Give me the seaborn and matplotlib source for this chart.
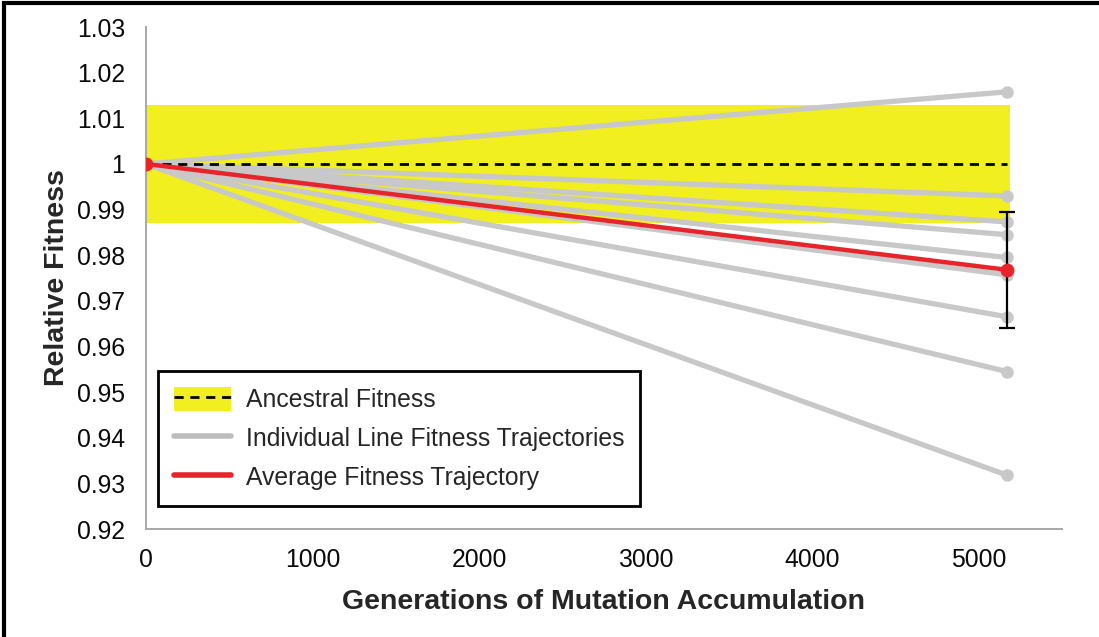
import numpy as np
import pandas as pd
import seaborn as sns
import matplotlib.pyplot as plt
from matplotlib.patches import Patch, Rectangle
from matplotlib.lines import Line2D

# generations sampled
generations = [0, 5170]

# end-point relative fitness of each mutation-accumulation line (all start at 1)
line_end_fitness = [1.0158, 0.9930, 0.9873, 0.9845, 0.9795, 0.9757, 0.9665, 0.9545, 0.9318]

# average trajectory and its error bar at the end point
avg_fitness = [1.0, 0.9768]
avg_err = 0.0127

# ancestral fitness band
ancestral_mean = 1.0
ancestral_low = 0.987
ancestral_high = 1.013
band_x = [0, 5190]

rows = []
for i, f in enumerate(line_end_fitness):
    rows.append({'line': i, 'gen': generations[0], 'fitness': 1.0})
    rows.append({'line': i, 'gen': generations[1], 'fitness': f})
df = pd.DataFrame(rows)
avg_df = pd.DataFrame({'gen': generations, 'fitness': avg_fitness})

sns.set_style('white')
plt.rcParams['font.family'] = ['Liberation Sans', 'DejaVu Sans']

gray = '#c8c8c8'
red = '#e8242b'
yellow = '#f1ef1f'
dash = (0, (3.3, 2.4))

fig = plt.figure(figsize=(10.99, 6.37), dpi=100)
ax = fig.add_axes([0.1328, 0.1695, 0.8335, 0.7881])

ax.fill_between(band_x, ancestral_low, ancestral_high, color=yellow, lw=0, zorder=1)
ax.plot(generations, [ancestral_mean, ancestral_mean], color='black', ls=dash, lw=2.0, zorder=3)

sns.lineplot(data=df, x='gen', y='fitness', units='line', estimator=None,
             color=gray, lw=3.8, marker='o', markersize=9, markeredgewidth=0,
             ax=ax, zorder=2)

ax.errorbar(generations[1], avg_fitness[1], yerr=avg_err, color='black',
            lw=1.6, capsize=6, capthick=1.6, zorder=4)
sns.lineplot(data=avg_df, x='gen', y='fitness', color=red, lw=3.2,
             marker='o', markersize=10, markeredgewidth=0, ax=ax, zorder=5)

ax.set_xlim(0, 5500)
ax.set_ylim(0.92, 1.03)
ax.set_xticks(np.arange(0, 5001, 1000))
ax.set_yticks(np.arange(0.92, 1.0301, 0.01))
ax.set_yticklabels(['0.92', '0.93', '0.94', '0.95', '0.96', '0.97', '0.98',
                    '0.99', '1', '1.01', '1.02', '1.03'])

for s in ['top', 'right']:
    ax.spines[s].set_visible(False)
for s in ['left', 'bottom']:
    ax.spines[s].set_color('#a8a8a8')
    ax.spines[s].set_linewidth(1.4)
ax.tick_params(axis='both', direction='out', length=6, width=1, color='#a8a8a8',
               labelsize=17.8, labelcolor='#0a0a0a')
ax.tick_params(axis='y', pad=9)
ax.tick_params(axis='x', pad=8)

ax.set_xlabel('Generations of Mutation Accumulation', fontsize=20.5, fontweight='bold', labelpad=12)
ax.set_ylabel('Relative Fitness', fontsize=20.5, fontweight='bold', labelpad=5)

handles = [(Patch(facecolor=yellow, edgecolor='none'),
            Line2D([], [], color='black', ls=dash, lw=2.0)),
           Line2D([], [], color='#bdbdbd', lw=4),
           Line2D([], [], color=red, lw=4)]
labels = ['Ancestral Fitness', 'Individual Line Fitness Trajectories', 'Average Fitness Trajectory']
leg = ax.legend(handles, labels, loc='upper left', bbox_to_anchor=(0.013, 0.315),
                borderaxespad=0, fontsize=17.8, frameon=True, fancybox=False,
                handlelength=2.3, handleheight=1.1, labelspacing=0.55,
                borderpad=0.65, handletextpad=0.6)
leg.get_frame().set_edgecolor('black')
leg.get_frame().set_linewidth(2)
leg.get_frame().set_alpha(1)
leg.set_zorder(10)

# outer frame of the figure (only top and left visible, picture is cropped)
fig.patches.append(Rectangle((0.004, -0.1), 1.2, 1.095, transform=fig.transFigure,
                             fill=False, edgecolor='black', lw=3, figure=fig))

fig.savefig('out.png', dpi=100)
